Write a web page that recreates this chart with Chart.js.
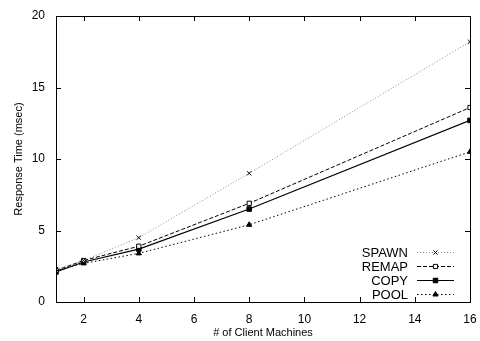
<!DOCTYPE html>
<html>
<head>
<meta charset="utf-8">
<script src="https://cdn.jsdelivr.net/npm/chart.js@4"></script>
<style>
  html, body { margin: 0; padding: 0; background: #fff; }
  #wrap { width: 480px; height: 341px; }
</style>
</head>
<body>
<div id="wrap"><canvas id="c"></canvas></div>
<script>
// data
const clients = [1, 2, 4, 8, 16];
const spawn = [2.3, 2.9, 4.5, 9.0, 18.2];
const remap = [2.2, 2.9, 3.9, 6.9, 13.6];
const copy = [2.1, 2.8, 3.7, 6.5, 12.7];
const pool = [2.2, 2.7, 3.4, 5.4, 10.5];
const xTicks = [2, 4, 6, 8, 10, 12, 14, 16];
const yTicks = [0, 5, 10, 15, 20];

const FONT = 'Liberation Sans, Arial, sans-serif';

function pts(ys) {
  return clients.map((x, i) => ({x: x, y: ys[i]}));
}

// box + inward ticks, gnuplot style
const frame = {
  id: 'frame',
  afterDatasetsDraw(chart) {
    const ctx = chart.ctx;
    const a = chart.chartArea;
    const sx = chart.scales.x, sy = chart.scales.y;
    ctx.save();
    ctx.strokeStyle = '#000';
    ctx.lineWidth = 1;
    ctx.setLineDash([]);
    ctx.strokeRect(Math.round(a.left) + 0.5, Math.round(a.top) + 0.5,
      Math.round(a.right - a.left), Math.round(a.bottom - a.top));
    ctx.beginPath();
    xTicks.forEach(v => {
      const px = Math.round(sx.getPixelForValue(v)) + 0.5;
      ctx.moveTo(px, a.bottom); ctx.lineTo(px, a.bottom - 5);
      ctx.moveTo(px, a.top); ctx.lineTo(px, a.top + 5);
    });
    yTicks.forEach(v => {
      const py = Math.round(sy.getPixelForValue(v)) + 0.5;
      ctx.moveTo(a.left, py); ctx.lineTo(a.left + 5, py);
      ctx.moveTo(a.right, py); ctx.lineTo(a.right - 5, py);
    });
    ctx.stroke();
    ctx.restore();
  }
};

// legend inside the plot, text right aligned, sample on the right
const keyBox = {
  id: 'keyBox',
  afterDraw(chart) {
    const ctx = chart.ctx;
    const a = chart.chartArea;
    const textRight = a.right - 62;
    const x0 = a.right - 53, x1 = a.right - 16;
    ctx.save();
    ctx.font = '13px ' + FONT;
    ctx.textAlign = 'right';
    ctx.textBaseline = 'middle';
    chart.data.datasets.forEach((ds, i) => {
      const y = a.bottom - 50 + i * 14;
      ctx.fillStyle = '#000';
      ctx.fillText(ds.label, textRight, y + 1);
      ctx.strokeStyle = ds.borderColor;
      ctx.lineWidth = ds.borderWidth;
      ctx.setLineDash(ds.borderDash || []);
      ctx.beginPath();
      ctx.moveTo(x0, y + 0.5); ctx.lineTo(x1, y + 0.5);
      ctx.stroke();
      ctx.setLineDash([]);
      ctx.fillStyle = ds.pointBackgroundColor;
      ctx.strokeStyle = ds.pointBorderColor;
      ctx.lineWidth = 1;
      Chart.helpers.drawPoint(ctx, {
        pointStyle: ds.pointStyle, radius: ds.pointRadius, borderWidth: 1
      }, (x0 + x1) / 2, y + 0.5);
    });
    ctx.restore();
  }
};

new Chart(document.getElementById('c'), {
  type: 'line',
  data: {
    datasets: [
      {
        label: 'SPAWN', data: pts(spawn),
        borderColor: '#8a8a8a', borderWidth: 1, borderDash: [1, 2],
        pointStyle: 'crossRot', pointRadius: 3,
        pointBorderColor: '#000', pointBackgroundColor: '#000', pointBorderWidth: 1
      },
      {
        label: 'REMAP', data: pts(remap),
        borderColor: '#000', borderWidth: 1, borderDash: [4, 2],
        pointStyle: 'rect', pointRadius: 3,
        pointBorderColor: '#000', pointBackgroundColor: '#fff', pointBorderWidth: 1
      },
      {
        label: 'COPY', data: pts(copy),
        borderColor: '#000', borderWidth: 1.2,
        pointStyle: 'rect', pointRadius: 3.2,
        pointBorderColor: '#000', pointBackgroundColor: '#000', pointBorderWidth: 1
      },
      {
        label: 'POOL', data: pts(pool),
        borderColor: '#000', borderWidth: 1, borderDash: [1.5, 2.5],
        pointStyle: 'triangle', pointRadius: 3,
        pointBorderColor: '#000', pointBackgroundColor: '#000', pointBorderWidth: 1
      }
    ]
  },
  options: {
    responsive: true,
    maintainAspectRatio: false,
    animation: false,
    layout: { padding: { top: 16, right: 10, left: 0, bottom: 0 } },
    plugins: {
      legend: { display: false },
      tooltip: { enabled: false }
    },
    scales: {
      x: {
        type: 'linear', min: 1, max: 16,
        afterBuildTicks: s => { s.ticks = xTicks.map(v => ({value: v})); },
        afterFit: s => { s.height = 39; },
        grid: { display: false },
        border: { display: false },
        ticks: { color: '#000', font: { family: FONT, size: 12 }, padding: 2, maxRotation: 0 },
        title: {
          display: true, text: '# of Client Machines', color: '#000',
          font: { family: FONT, size: 11 }, padding: { top: 0, bottom: 1 }
        }
      },
      y: {
        type: 'linear', min: 0, max: 20,
        afterBuildTicks: s => { s.ticks = yTicks.map(v => ({value: v})); },
        afterFit: s => { s.width = 56; },
        grid: { display: false },
        border: { display: false },
        ticks: { color: '#000', font: { family: FONT, size: 12 }, padding: 3 },
        title: {
          display: true, text: 'Response Time (msec)', color: '#000',
          font: { family: FONT, size: 11 }, padding: { top: 12, bottom: 0 }
        }
      }
    }
  },
  plugins: [frame, keyBox]
});
</script>
</body>
</html>
